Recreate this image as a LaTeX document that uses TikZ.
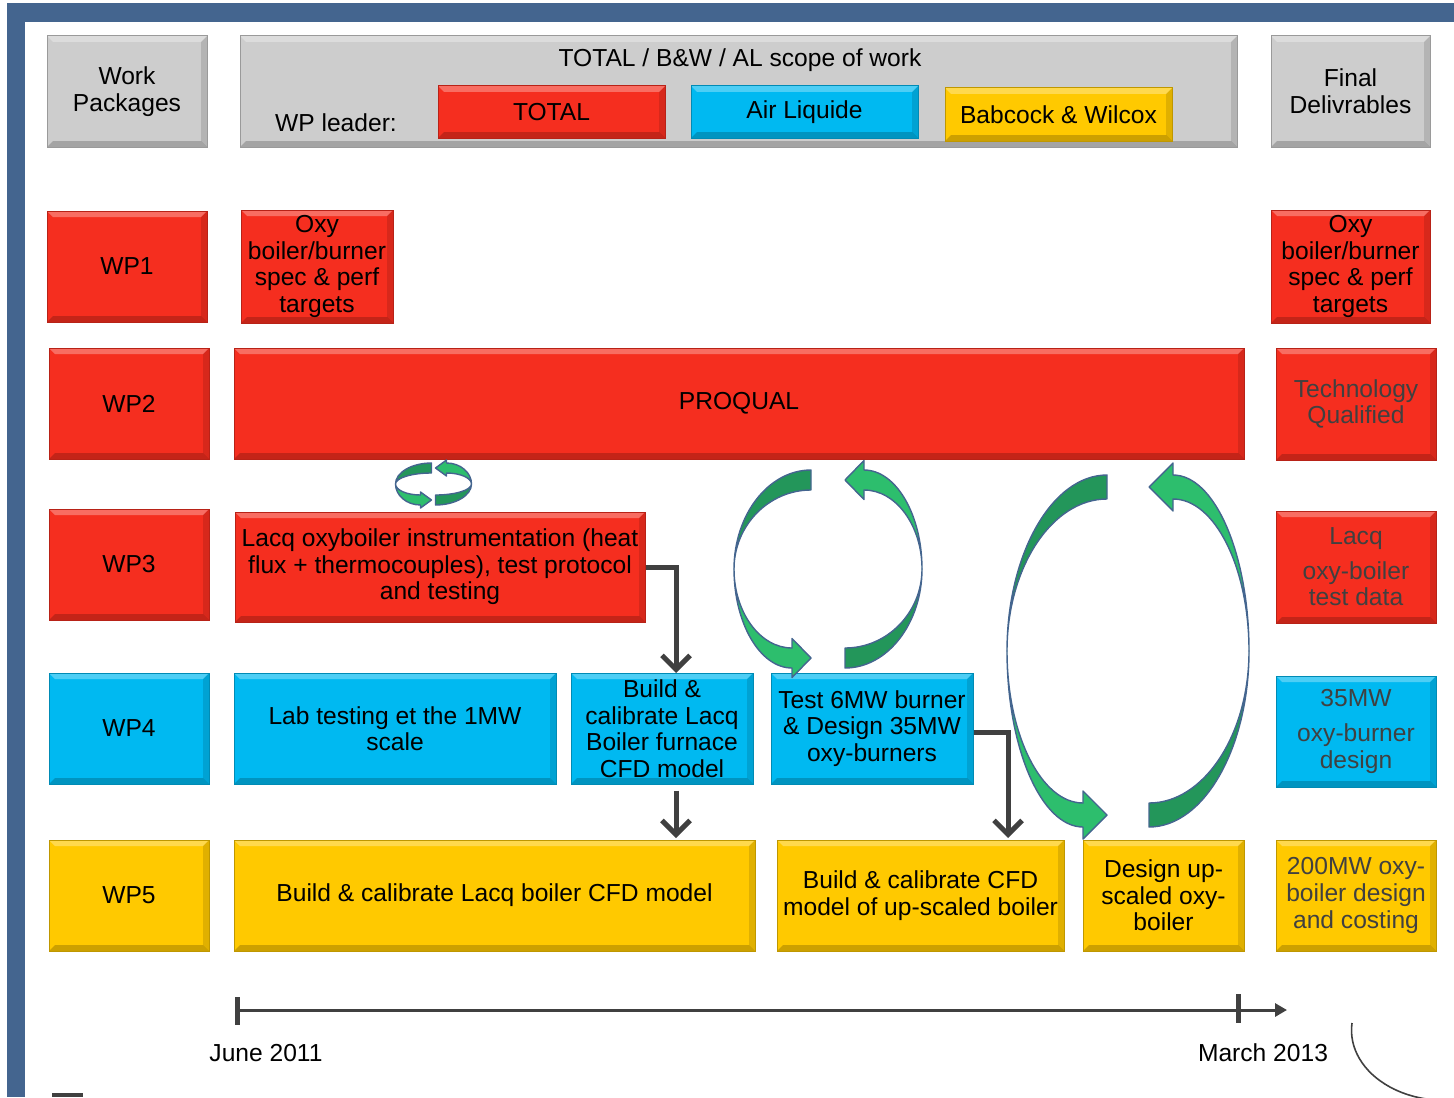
\documentclass[tikz,border=0pt]{standalone}
\usepackage{fontspec}
\setmainfont{Liberation Sans}
\usetikzlibrary{arrows.meta,shadows}

\definecolor{wpred}{HTML}{F52E1F}
\definecolor{wpblue}{HTML}{00B9F1}
\definecolor{wpyellow}{HTML}{FFC900}
\definecolor{wpgray}{HTML}{CDCDCD}
\definecolor{framebl}{HTML}{44658F}
\definecolor{darkgrn}{HTML}{23965A}
\definecolor{litegrn}{HTML}{2DBE6D}
\definecolor{arrowgr}{HTML}{404040}
\definecolor{deltext}{HTML}{404040}

\tikzset{
  box/.style={draw=#1!75!black, fill=#1, line width=0.5pt, align=center, inner sep=1pt,
    drop shadow={shadow xshift=0.7pt, shadow yshift=-0.7pt, opacity=0.3},
    path picture={
      \fill[white,opacity=.3] (path picture bounding box.north west) -- (path picture bounding box.north east)
        -- ([xshift=-3pt,yshift=-3pt]path picture bounding box.north east) -- ([xshift=3pt,yshift=-3pt]path picture bounding box.north west) -- cycle;
      \fill[black,opacity=.2] (path picture bounding box.south west) -- (path picture bounding box.south east)
        -- ([xshift=-3pt,yshift=3pt]path picture bounding box.south east) -- ([xshift=3pt,yshift=3pt]path picture bounding box.south west) -- cycle;
      \fill[black,opacity=.12] (path picture bounding box.north east) -- (path picture bounding box.south east)
        -- ([xshift=-3pt,yshift=3pt]path picture bounding box.south east) -- ([xshift=-3pt,yshift=-3pt]path picture bounding box.north east) -- cycle;
    }},
  wh/.style 2 args={minimum width=#1*0.5pt, minimum height=#2*0.5pt},
  flow/.style={draw=arrowgr, line width=2.5pt, -{Straight Barb[length=7pt,width=14pt]}},
  axis/.style={draw=arrowgr, line width=1.5pt, -{Triangle[length=6pt,width=6.5pt]}},
  tick/.style={draw=arrowgr, line width=2.5pt},
  loopline/.style={draw=framebl, line width=0.7pt, line join=round}
}

% green loop: centre x, centre y, rx, ry, band, gap, head length, head half width
\newcommand\greenloop[8]{%
  \begin{scope}[shift={(#1,#2)}]
    \foreach \rot in {0,180}{
      \begin{scope}[rotate=\rot]
        \filldraw[loopline, fill=darkgrn] (-#6,-#4) .. controls ({-#6-0.55*(#3-#6)},-#4) and (-#3,{-0.55*#4}) .. (-#3,0)
          .. controls (-#3,{-0.55*(#4-#5)}) and ({-#6-0.55*(#3-#6)},{-#4+#5}) .. (-#6,{-#4+#5}) -- cycle;
        \filldraw[loopline, fill=litegrn] (-#3,0) .. controls (-#3,{0.55*#4}) and ({-#6-#7-0.55*(#3-#6-#7)},#4) .. ({-#6-#7},#4)
          -- ({-#6-#7},{#4-#5/2+#8}) -- (-#6,{#4-#5/2}) -- ({-#6-#7},{#4-#5/2-#8}) -- ({-#6-#7},{#4-#5})
          .. controls ({-#6-#7-0.55*(#3-#6-#7)},{#4-#5}) and (-#3,{0.55*(#4-#5)}) .. (-#3,0) -- cycle;
      \end{scope}}
  \end{scope}}

\begin{document}
\begin{tikzpicture}[x=0.5pt,y=-0.5pt, every node/.style={font=\fontsize{12.3}{13.3}\selectfont}]
  \useasboundingbox (0,0) rectangle (1454,1097);

  % frame
  \fill[framebl] (7,3) rectangle (1454,22);
  \fill[framebl] (7,3) rectangle (25,1097);
  \fill[arrowgr] (52,1093) rectangle (83,1097);
  \draw[arrowgr, line width=0.8pt] (1352,1023) arc[start angle=186, end angle=80, x radius=93, y radius=70];

  % header
  \node[box=wpgray, wh={160}{111}] (hwp) at (127,91.5) {Work\\Packages};
  \node[box=wpgray, wh={997}{111}] (hscope) at (738.5,91.5) {};
  \node (htitle) at (740,60) {TOTAL / B\&W / AL scope of work};
  \node (hlead) at (336,123) {WP leader:};
  \node[box=wpred, wh={227}{52}] (ltotal) at (551.5,112) {TOTAL};
  \node[box=wpblue, wh={227}{52}] (lal) at (804.5,112) {Air Liquide};
  \node[box=wpyellow, wh={227}{53}] (lbw) at (1058.5,114.5) {Babcock \& Wilcox};
  \node[box=wpgray, wh={159}{111}] (hfinal) at (1350.5,91.5) {Final\\Delivrables};

  % work packages
  \node[box=wpred, wh={160}{111}] (wp1) at (127,266.5) {WP1};
  \node[box=wpred, wh={160}{111}] (wp2) at (129,403.5) {WP2};
  \node[box=wpred, wh={160}{111}] (wp3) at (129,564.5) {WP3};
  \node[box=wpblue, wh={160}{111}] (wp4) at (129,728.5) {WP4};
  \node[box=wpyellow, wh={160}{111}] (wp5) at (129,895.5) {WP5};

  % tasks
  \node[box=wpred, wh={152}{113}] (oxy) at (317,266.5) {Oxy\\boiler/burner\\spec \& perf\\targets};
  \node[box=wpred, wh={1010}{111}] (proqual) at (739,403.5) {PROQUAL};
  \node[box=wpred, wh={410}{110}] (lacq) at (440,567) {Lacq oxyboiler instrumentation (heat\\flux + thermocouples), test protocol\\and testing};
  \node[box=wpblue, wh={322}{111}] (lab) at (395,728.5) {Lab testing et the 1MW\\scale};
  \node[box=wpblue, wh={182}{111}] (cfd1) at (662,728.5) {Build \&\\calibrate Lacq\\Boiler furnace\\CFD model};
  \node[box=wpblue, wh={202}{111}] (test6) at (872,728.5) {Test 6MW burner\\\& Design 35MW\\oxy-burners};
  \node[box=wpyellow, wh={521}{111}] (cfd2) at (494.5,895.5) {Build \& calibrate Lacq boiler CFD model};
  \node[box=wpyellow, wh={287}{111}] (cfd3) at (920.5,895.5) {Build \& calibrate CFD\\model of up-scaled boiler};
  \node[box=wpyellow, wh={161}{111}] (design) at (1163.5,895.5) {Design up-\\scaled oxy-\\boiler};

  % final deliverables
  \node[box=wpred, wh={159}{113}] (f1) at (1350.5,266.5) {Oxy\\boiler/burner\\spec \& perf\\targets};
  \node[box=wpred, wh={160}{112}, text=deltext] (f2) at (1356,404) {Technology\\Qualified};
  \node[box=wpred, wh={160}{112}, text=deltext] (f3) at (1356,567) {Lacq\\[4pt]oxy-boiler\\test data};
  \node[box=wpblue, wh={160}{111}, text=deltext] (f4) at (1356,731.5) {35MW\\[4pt]oxy-burner\\design};
  \node[box=wpyellow, wh={160}{111}, text=deltext] (f5) at (1356,895.5) {200MW oxy-\\boiler design\\and costing};

  % links
  \coordinate (a1) at (676,673);
  \coordinate (a2) at (676,838);
  \coordinate (a3) at (1008,838);
  \draw[flow] (lacq.east) -| (a1);
  \draw[flow] ([xshift=7pt,yshift=-3pt]cfd1.south) -- (a2);
  \draw[flow] ([yshift=-2pt]test6.east) -| (a3);

  % iteration loops
  \greenloop{433.5}{484}{38}{21}{10}{2}{11}{8}
  \greenloop{828}{569}{94}{99}{20}{17}{19}{19.5}
  \greenloop{1128}{651}{121}{176}{24}{21}{24}{24}

  % time line
  \coordinate (t0) at (237,1010);
  \coordinate (t1) at (1287,1010);
  \draw[axis] (t0) -- (t1);
  \draw[tick] (237,997) -- (237,1025);
  \draw[tick] (1238,994) -- (1238,1023);
  \node (jun) at (266,1053) {June 2011};
  \node (mar) at (1263,1053) {March 2013};
\end{tikzpicture}
\end{document}
